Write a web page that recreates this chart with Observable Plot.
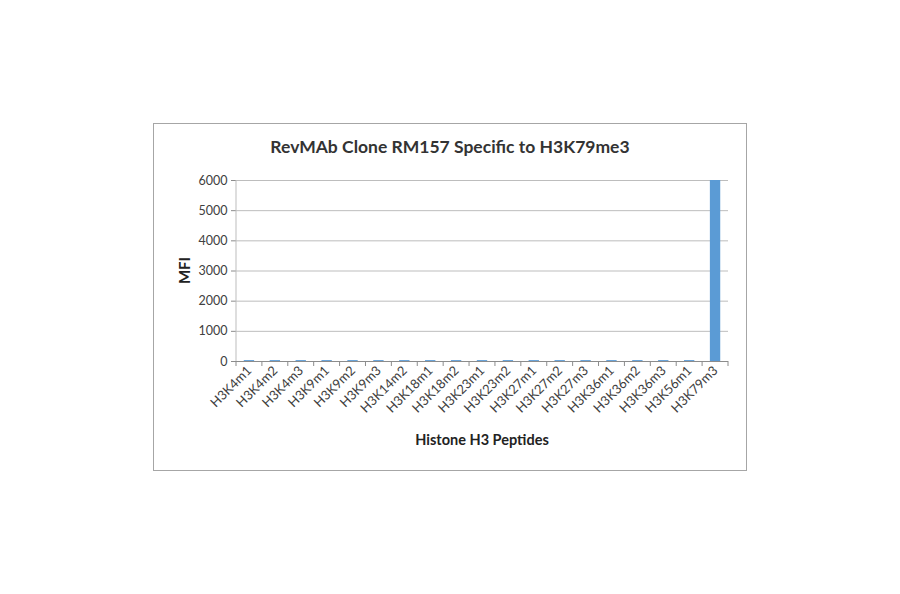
<!DOCTYPE html>
<html>
<head>
<meta charset="utf-8">
<script src="https://cdn.jsdelivr.net/npm/d3@7"></script>
<script src="https://cdn.jsdelivr.net/npm/@observablehq/plot@0.6"></script>
<style>
  html, body { margin: 0; padding: 0; background: #fff; }
  svg { display: block; }
</style>
</head>
<body>
<div id="chart"></div>
<script>
const peptides = ["H3K4m1","H3K4m2","H3K4m3","H3K9m1","H3K9m2","H3K9m3","H3K14m2","H3K18m1","H3K18m2","H3K23m1","H3K23m2","H3K27m1","H3K27m2","H3K27m3","H3K36m1","H3K36m2","H3K36m3","H3K56m1","H3K79m3"];
const mfi = [30,30,30,30,30,30,30,30,30,30,30,30,30,30,30,30,30,30,6000];
const yTicks = [0,1000,2000,3000,4000,5000,6000];
const chartTitle = "RevMAb Clone RM157 Specific to H3K79me3";
const yTitle = "MFI";
const xTitle = "Histone H3 Peptides";

const data = peptides.map((p, i) => ({peptide: p, value: mfi[i]}));
const font = "Lato, 'Open Sans', sans-serif";

const plot = Plot.plot({
  width: 900,
  height: 594,
  marginLeft: 236,
  marginRight: 172,
  marginTop: 180,
  marginBottom: 233,
  style: {fontFamily: font, fontSize: "12px", color: "#404040", background: "transparent"},
  x: {domain: peptides, paddingInner: 0.6, paddingOuter: 0.3, round: false, label: null},
  y: {domain: [0, 6000], label: null},
  marks: [
    Plot.ruleY(yTicks.slice(1), {stroke: "#bdbdbd", strokeWidth: 1}),
    Plot.barY(data, {x: "peptide", y: "value", fill: "#5b9bd5"}),
    Plot.ruleY([0], {stroke: "#8c8c8c", strokeWidth: 1}),
    Plot.axisX({tickRotate: -45, tickSize: 0, tickPadding: 7, fontSize: 13, fill: "#404040", label: null}),
    Plot.axisY({ticks: yTicks, tickSize: 5, tickPadding: 4, tickFormat: d => String(d), fontSize: 12.5, fill: "#404040", stroke: "#8c8c8c", label: null})
  ]
});

document.getElementById("chart").appendChild(plot);
const svg = d3.select(plot);
const xs = plot.scale("x");
const ys = plot.scale("y");
const y0 = ys.apply(0), yTop = ys.apply(6000);
const inner = xs.step - xs.bandwidth;
const bounds = peptides.map(p => xs.apply(p) - inner / 2);
bounds.push(xs.apply(peptides[peptides.length - 1]) + xs.bandwidth + inner / 2);

const deco = svg.append("g");
// outer border
deco.append("rect").attr("x", 153.5).attr("y", 123.5).attr("width", 593).attr("height", 347)
  .attr("fill", "none").attr("stroke", "#a6a6a6");
// left axis line
deco.append("line").attr("x1", bounds[0]).attr("x2", bounds[0]).attr("y1", yTop).attr("y2", y0)
  .attr("stroke", "#bdbdbd");
// category boundary ticks
deco.selectAll("line.bt").data(bounds).join("line").attr("class", "bt")
  .attr("x1", d => d).attr("x2", d => d).attr("y1", y0).attr("y2", y0 + 5)
  .attr("stroke", "#8c8c8c");
// title
deco.append("text").attr("x", 450).attr("y", 153).attr("text-anchor", "middle")
  .attr("font-family", font).attr("font-weight", "bold").attr("font-size", 17.5)
  .attr("fill", "#333").text(chartTitle);
// y title
deco.append("text").attr("transform", `translate(190,${(y0 + yTop) / 2}) rotate(-90)`)
  .attr("text-anchor", "middle").attr("font-family", font).attr("font-weight", "bold")
  .attr("font-size", 15).attr("fill", "#222").text(yTitle);
// x title
deco.append("text").attr("x", (bounds[0] + bounds[bounds.length - 1]) / 2).attr("y", 445)
  .attr("text-anchor", "middle").attr("font-family", font).attr("font-weight", "bold")
  .attr("font-size", 14.5).attr("fill", "#222").text(xTitle);
</script>
</body>
</html>
